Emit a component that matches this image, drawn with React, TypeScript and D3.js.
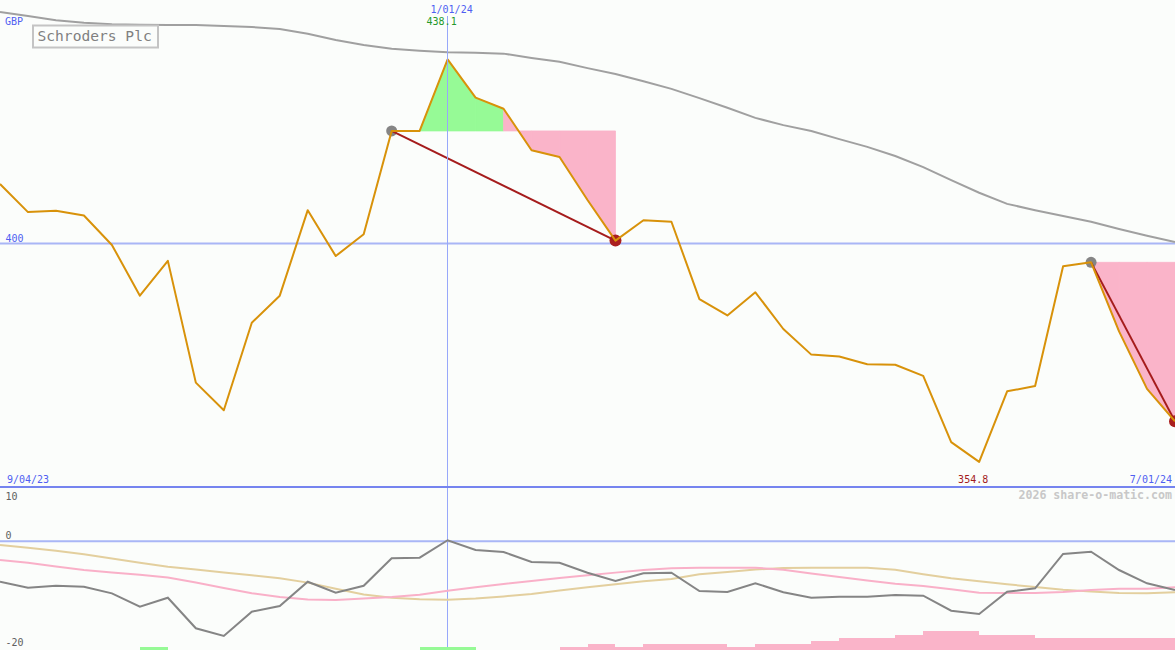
import { line, scaleLinear } from "d3";

const WIDTH = 1175;
const HEIGHT = 650;
const MAIN_BOTTOM = 487;

// weekly closes, GBP pence
const price = [
  412.3, 406.5, 406.8, 405.8, 399.7, 389.2, 396.4, 371.2, 365.5, 383.6, 389.2,
  406.9, 397.4, 401.9, 423.3, 423.3, 438.1, 430.2, 427.9, 419.3, 417.9, 409.0,
  400.6, 404.8, 404.5, 388.5, 385.1, 389.9, 382.3, 377.0, 376.6, 375.0, 374.9,
  372.6, 358.9, 354.8, 369.4, 370.5, 395.3, 396.1, 381.8, 369.9, 363.2,
];

// long moving average
const longAvg = [
  447.9, 447.1, 446.2, 445.7, 445.4, 445.3, 445.2, 445.2, 445.0, 444.8, 444.4,
  443.4, 442.1, 441.1, 440.3, 439.9, 439.6, 439.5, 439.3, 438.4, 437.6, 436.3,
  435.1, 433.6, 432.0, 430.1, 428.1, 426.0, 424.5, 423.3, 421.6, 420.0, 418.1,
  415.8, 413.1, 410.5, 408.2, 406.9, 405.7, 404.5, 403.0, 401.6, 400.3,
];

// lower panel oscillator
const oscGray = [
  -7.43, -8.53, -8.17, -8.35, -9.57, -12.03, -10.38, -16.0, -17.42, -12.95,
  -11.9, -7.43, -9.45, -8.17, -3.12, -3.01, 0.2, -1.6, -1.96, -3.8, -3.93,
  -5.77, -7.3, -5.88, -5.77, -9.14, -9.33, -7.72, -9.38, -10.38, -10.19,
  -10.19, -9.88, -10.0, -12.77, -13.38, -9.27, -8.65, -2.33, -1.91, -5.28,
  -7.72, -8.96,
];

const oscPink = [
  -3.44, -3.95, -4.65, -5.28, -5.74, -6.14, -6.66, -7.58, -8.59, -9.55,
  -10.25, -10.71, -10.78, -10.52, -10.25, -9.82, -9.11, -8.46, -7.84, -7.32,
  -6.75, -6.25, -5.76, -5.28, -4.95, -4.85, -4.85, -4.85, -5.22, -5.9, -6.57,
  -7.21, -7.8, -8.22, -8.83, -9.47, -9.53, -9.51, -9.33, -8.96, -8.74, -8.72,
  -8.46,
];

const oscTan = [
  -0.68, -1.19, -1.72, -2.39, -3.16, -3.93, -4.67, -5.18, -5.72, -6.23, -6.79,
  -7.6, -8.74, -9.79, -10.38, -10.67, -10.74, -10.52, -10.14, -9.69, -9.05,
  -8.44, -7.91, -7.34, -6.93, -6.07, -5.65, -5.18, -4.91, -4.85, -4.85, -4.85,
  -5.22, -6.05, -6.81, -7.36, -7.91, -8.41, -8.9, -9.22, -9.49, -9.55, -9.38,
];

// histogram blocks along the bottom (week index -> height in panel units)
const greenBarIdx = [5, 15, 16];
const greenBarVal = [0.55, 0.55, 0.55];
const pinkBarIdx = [
  20, 21, 22, 23, 24, 25, 26, 27, 28, 29, 30, 31, 32, 33, 34, 35, 36, 37, 38,
  39, 40, 41,
];
const pinkBarVal = [
  0.55, 1.1, 0.55, 1.1, 1.1, 1.1, 0.55, 1.1, 1.1, 1.65, 2.26, 2.26, 2.76,
  3.55, 3.55, 2.76, 2.76, 2.26, 2.26, 2.26, 2.26, 2.26,
];

const tradeEntry = [14, 39];
const tradeExit = [22, 42];

const dateLabels = ["9/04/23", "1/01/24", "7/01/24"];
const dateIdx = [0, 16, 42];

const FONT = "DejaVu Sans Mono, monospace";
const BLUE_TEXT = "#4f5ff2";
const GRID = "#a9b6f6";
const GREEN_FILL = "#96fa96";
const PINK_FILL = "#fab4c9";

export default function App() {
  const x = scaleLinear().domain([0, price.length - 1]).range([0, WIDTH]);
  const y = scaleLinear().domain([349.6, 450.4]).range([MAIN_BOTTOM, 0]);
  const yLow = scaleLinear().domain([-20, 10]).range([HEIGHT, MAIN_BOTTOM]);

  const mainLine = line<number>()
    .x((_, i) => x(i))
    .y((d) => y(d));
  const lowLine = line<number>()
    .x((_, i) => x(i))
    .y((d) => yLow(d));

  const maxIdx = price.indexOf(Math.max(...price));
  const minIdx = price.indexOf(Math.min(...price));
  const markX = Math.round(x(dateIdx[1])) - 0.5;

  // fill between price and entry level, coloured per segment
  const fills: { d: string; color: string }[] = [];
  tradeEntry.forEach((e, t) => {
    const base = price[e];
    for (let i = e; i < tradeExit[t]; i++) {
      const next = price[i + 1];
      if (next === base) continue;
      const d = `M${x(i)},${y(base)}L${x(i)},${y(price[i])}L${x(i + 1)},${y(next)}L${x(i + 1)},${y(base)}Z`;
      fills.push({ d, color: next > base ? GREEN_FILL : PINK_FILL });
    }
  });

  return (
    <svg
      width={WIDTH}
      height={HEIGHT}
      viewBox={`0 0 ${WIDTH} ${HEIGHT}`}
      style={{ position: "absolute", left: 0, top: 0, background: "#fbfdfb" }}
      fontFamily={FONT}
    >
      <defs>
        <clipPath id="mainClip">
          <rect x="0" y="0" width={WIDTH} height={MAIN_BOTTOM} />
        </clipPath>
        <clipPath id="lowClip">
          <rect x="0" y={MAIN_BOTTOM} width={WIDTH} height={HEIGHT - MAIN_BOTTOM} />
        </clipPath>
      </defs>
      <rect x="0" y="0" width={WIDTH} height={HEIGHT} fill="#fbfdfb" />

      {/* main panel */}
      <g clipPath="url(#mainClip)">
        {fills.map((f, i) => (
          <path key={i} d={f.d} fill={f.color} stroke={f.color} strokeWidth="0.8" />
        ))}
        <line x1="0" x2={WIDTH} y1={y(400)} y2={y(400)} stroke={GRID} strokeWidth="2" />
        <path d={mainLine(longAvg) ?? ""} fill="none" stroke="#a0a0a0" strokeWidth="2" />
        {tradeEntry.map((e, t) => (
          <circle key={`en${t}`} cx={x(e)} cy={y(price[e])} r="5.5" fill="#858585" />
        ))}
        {tradeExit.map((e, t) => (
          <circle key={`ex${t}`} cx={x(e)} cy={y(price[e])} r="6" fill="#aa1f1f" />
        ))}
        {tradeEntry.map((e, t) => (
          <line
            key={`tl${t}`}
            x1={x(e)}
            y1={y(price[e])}
            x2={x(tradeExit[t])}
            y2={y(price[tradeExit[t]])}
            stroke="#a51c1c"
            strokeWidth="2"
          />
        ))}
        <path d={mainLine(price) ?? ""} fill="none" stroke="#d8920a" strokeWidth="2" strokeLinejoin="round" />
      </g>

      <line x1={markX} x2={markX} y1="16" y2={HEIGHT} stroke="#97a8fa" strokeWidth="1" />

      {/* lower panel */}
      <g clipPath="url(#lowClip)">
        <line x1="0" x2={WIDTH} y1={yLow(0)} y2={yLow(0)} stroke={GRID} strokeWidth="2" />
        {greenBarIdx.map((idx, i) => (
          <rect
            key={`g${i}`}
            x={x(idx)}
            y={yLow(-20 + greenBarVal[i])}
            width={x(idx + 1) - x(idx)}
            height={yLow(-20) - yLow(-20 + greenBarVal[i])}
            fill={GREEN_FILL}
            shapeRendering="crispEdges"
          />
        ))}
        {pinkBarIdx.map((idx, i) => (
          <rect
            key={`p${i}`}
            x={x(idx)}
            y={yLow(-20 + pinkBarVal[i])}
            width={x(idx + 1) - x(idx)}
            height={yLow(-20) - yLow(-20 + pinkBarVal[i])}
            fill={PINK_FILL}
            shapeRendering="crispEdges"
          />
        ))}
        <path d={lowLine(oscTan) ?? ""} fill="none" stroke="#e3cf9e" strokeWidth="2" />
        <path d={lowLine(oscPink) ?? ""} fill="none" stroke="#f9b0c8" strokeWidth="2" />
        <path d={lowLine(oscGray) ?? ""} fill="none" stroke="#858585" strokeWidth="2" />
      </g>

      <line x1="0" x2={WIDTH} y1={MAIN_BOTTOM} y2={MAIN_BOTTOM} stroke="#7584ef" strokeWidth="2" />

      {/* labels */}
      <text x="5" y="25" fontSize="10" fill={BLUE_TEXT}>GBP</text>
      <rect x="33" y="25.5" width="125" height="22" fill="none" stroke="#c4c4c4" strokeWidth="2" />
      <text x="37.5" y="41" fontSize="14.6" fill="#808080">Schroders Plc</text>
      <text x="5.5" y={y(400) - 2} fontSize="10" fill={BLUE_TEXT}>400</text>

      <text x={x(dateIdx[1]) + 4} y="13" fontSize="10" fill={BLUE_TEXT} textAnchor="middle">
        {dateLabels[1]}
      </text>
      <text x={x(maxIdx) - 6} y="25" fontSize="10" fill="#23992a" textAnchor="middle">
        {price[maxIdx].toFixed(1)}
      </text>
      <text x={x(minIdx) - 6} y="483" fontSize="10" fill="#a31b1b" textAnchor="middle">
        {price[minIdx].toFixed(1)}
      </text>
      <text x="7" y="483" fontSize="10" fill={BLUE_TEXT}>{dateLabels[0]}</text>
      <text x="1172" y="483" fontSize="10" fill={BLUE_TEXT} textAnchor="end">
        {dateLabels[2]}
      </text>
      <text x="1172" y="499" fontSize="11.6" fontWeight="bold" fill="#c8c8c8" textAnchor="end">
        2026 share-o-matic.com
      </text>
      <text x="5.5" y="500" fontSize="10" fill="#606060">10</text>
      <text x="5.5" y="538.5" fontSize="10" fill="#606060">0</text>
      <text x="5.5" y="645.5" fontSize="10" fill="#606060">-20</text>
    </svg>
  );
}
